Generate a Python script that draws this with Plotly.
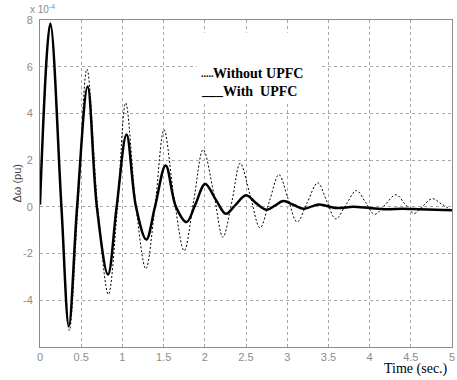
import plotly.graph_objects as go

# Time axis (s) and responses in units of 1e-4 pu
t_with = [0.0, 0.125, 0.26, 0.35, 0.45, 0.578, 0.69, 0.825, 0.93, 1.05, 1.165, 1.29, 1.395,
          1.525, 1.65, 1.78, 1.885, 2.005, 2.135, 2.255, 2.365, 2.5, 2.625, 2.75, 2.85, 2.95,
          3.08, 3.2, 3.3, 3.39, 3.6, 3.8, 4.0, 4.2, 4.4, 4.6, 4.8, 5.0]
w_with = [0.1, 7.85, 0.0, -5.1, 0.0, 5.15, 0.0, -2.9, 0.0, 3.1, 0.0, -1.4, 0.0,
          1.77, 0.0, -0.65, 0.1, 0.98, 0.3, -0.3, 0.05, 0.5, 0.15, -0.12, 0.05, 0.25,
          0.08, -0.08, 0.02, 0.1, -0.05, 0.0, -0.05, -0.1, -0.08, -0.1, -0.12, -0.15]

t_without = [0.0, 0.125, 0.26, 0.355, 0.46, 0.57, 0.70, 0.83, 0.94, 1.04, 1.165, 1.285, 1.395,
             1.505, 1.63, 1.75, 1.865, 1.98, 2.11, 2.22, 2.33, 2.43, 2.55, 2.67, 2.785, 2.9,
             3.01, 3.12, 3.245, 3.37, 3.48, 3.59, 3.715, 3.84, 3.95, 4.06, 4.19, 4.32, 4.43,
             4.54, 4.65, 4.76, 4.88, 5.0]
w_without = [0.1, 7.85, 0.0, -5.3, 0.0, 5.9, 0.0, -3.75, 0.0, 4.45, 0.0, -2.65, 0.0,
             3.3, 0.3, -1.88, 0.25, 2.45, 0.55, -1.3, 0.25, 1.87, 0.5, -0.9, 0.25, 1.38,
             0.35, -0.65, 0.2, 1.03, 0.25, -0.52, 0.1, 0.7, 0.2, -0.32, 0.1, 0.52, 0.12,
             -0.28, 0.05, 0.35, 0.1, -0.15]

x_ticks = [0, 0.5, 1, 1.5, 2, 2.5, 3, 3.5, 4, 4.5, 5]
x_labels = ["0", "0.5", "1", "1.5", "2", "2.5", "3", "3.5", "4", "4.5", "5"]
y_ticks = [-4, -2, 0, 2, 4, 6, 8]
y_labels = ["-4", "-2", "0", "2", "4", "6", "8"]

GRAY = "#8c8c8c"
GRID = "#a8a8a8"

fig = go.Figure()
fig.add_trace(go.Scatter(x=t_without, y=w_without, mode="lines", name="Without UPFC",
                         line=dict(color="black", width=1, dash="2px,2px", shape="spline",
                                   smoothing=1.0)))
fig.add_trace(go.Scatter(x=t_with, y=w_with, mode="lines", name="With  UPFC",
                         line=dict(color="black", width=2.5, shape="spline", smoothing=1.0)))

axis_common = dict(showline=True, linecolor=GRAY, linewidth=1, mirror=True,
                   showgrid=True, gridcolor=GRID, gridwidth=1, griddash="3px,3px",
                   zeroline=False, tickfont=dict(family="Liberation Sans", size=11, color=GRAY),
                   ticks="", ticklabeloverflow="allow")

fig.update_layout(
    width=457, height=380,
    margin=dict(l=40, r=2, t=20, b=33),
    paper_bgcolor="white", plot_bgcolor="white",
    showlegend=False,
    xaxis=dict(range=[0, 5], tickvals=x_ticks, ticktext=x_labels, **axis_common),
    yaxis=dict(range=[-6, 8], tickvals=y_ticks, ticktext=y_labels, ticklabelstandoff=4,
               **axis_common),
)

# white legend box
fig.add_shape(type="rect", xref="x", yref="y", x0=1.9, x1=3.42, y0=4.4, y1=7.45,
              fillcolor="white", line=dict(width=0), layer="above")

serif_b = dict(family="Liberation Serif", size=14, color="black")
fig.add_annotation(xref="x", yref="y", x=1.93, y=5.72, text="<b>.....</b>", showarrow=False,
                   xanchor="left", yanchor="middle", font=dict(family="Liberation Serif", size=10, color="black"))
fig.add_annotation(xref="x", yref="y", x=2.07, y=5.72, text="<b>Without UPFC</b>", showarrow=False,
                   xanchor="left", yanchor="middle", font=serif_b)
fig.add_annotation(xref="x", yref="y", x=1.93, y=5.0, text="<b>___</b>", showarrow=False,
                   xanchor="left", yanchor="middle", font=serif_b)
fig.add_annotation(xref="x", yref="y", x=2.2, y=4.95, text="<b>With\u00a0 UPFC</b>", showarrow=False,
                   xanchor="left", yanchor="middle", font=serif_b)

# exponent label
fig.add_annotation(xref="paper", yref="paper", x=-0.03, y=1.034, text="x 10<sup>-4</sup>",
                   showarrow=False, xanchor="left", yanchor="middle",
                   font=dict(family="Liberation Sans", size=10, color=GRAY))
# y label
fig.add_annotation(xref="paper", yref="paper", x=-0.058, y=0.5, text="Δω (pu)", textangle=-90,
                   showarrow=False, xanchor="center", yanchor="middle",
                   font=dict(family="Liberation Sans", size=11, color="#404040"))
# x label
fig.add_annotation(xref="paper", yref="paper", x=0.995, y=-0.067, text="Time (sec.)",
                   showarrow=False, xanchor="right", yanchor="middle",
                   font=dict(family="Liberation Serif", size=14, color="black"))

fig.write_html("out.html")
